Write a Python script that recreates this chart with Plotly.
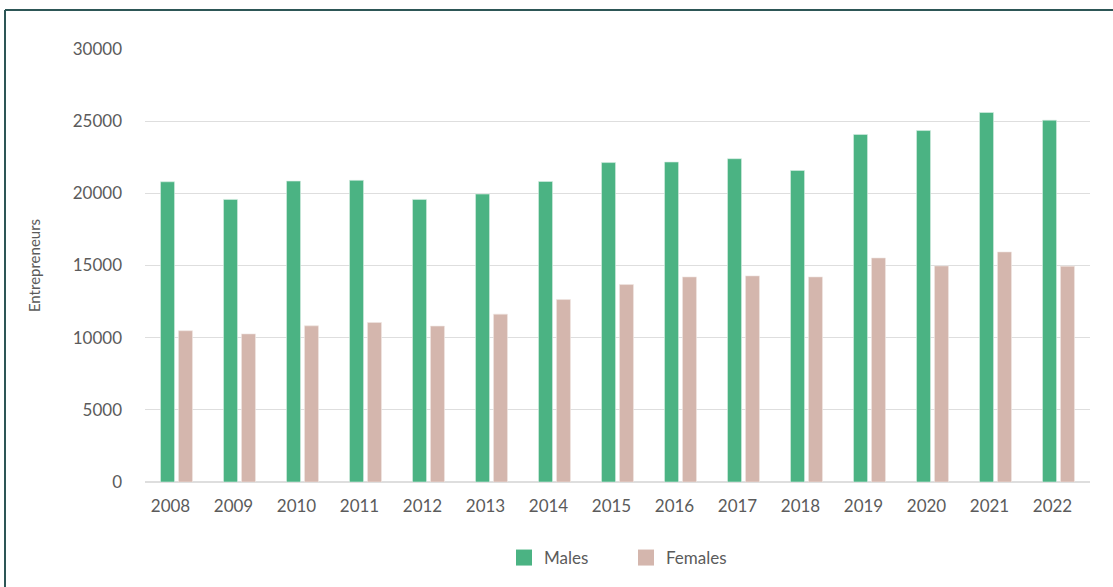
import plotly.graph_objects as go

years = ["2008", "2009", "2010", "2011", "2012", "2013", "2014", "2015",
         "2016", "2017", "2018", "2019", "2020", "2021", "2022"]
males = [20800, 19580, 20850, 20900, 19580, 19950, 20820, 22130,
         22170, 22400, 21580, 24080, 24350, 25600, 25070]
females = [10480, 10260, 10820, 11050, 10800, 11630, 12640, 13680,
           14210, 14280, 14210, 15520, 14970, 15940, 14950]
y_ticks = [0, 5000, 10000, 15000, 20000, 25000, 30000]

GREEN = "#4bb383"
PINK = "#d4b6ad"
TEXT = "#5b5b5b"
GRID = "#dedede"
FRAME = "#2d5656"

W, H = 1113, 587
L, R, T, B = 145, 23, 49, 104
pw, ph = W - L - R, H - T - B

def px_x(x):
    return (x - L) / pw

def px_y(y):
    return (H - B - y) / ph

fig = go.Figure()
fig.add_trace(go.Bar(x=years, y=males, name="Males", showlegend=False,
                     marker=dict(color=GREEN, line=dict(color="#d8efe4", width=0.6))))
fig.add_trace(go.Bar(x=years, y=females, name="Females", showlegend=False,
                     marker=dict(color=PINK, line=dict(color="#f0e6e2", width=0.6))))
# square swatches for the legend
for name, col in (("Males", GREEN), ("Females", PINK)):
    fig.add_trace(go.Scatter(x=[None], y=[None], mode="markers", name=name,
                             marker=dict(symbol="square", size=16, color=col)))

fig.update_layout(
    width=W, height=H,
    margin=dict(l=L, r=R, t=T, b=B),
    paper_bgcolor="white", plot_bgcolor="white",
    barmode="group", bargap=0.43, bargroupgap=0.22,
    font=dict(family="Lato, 'Open Sans', sans-serif", size=17, color=TEXT),
    showlegend=True,
    legend=dict(orientation="h", x=px_x(504), xanchor="left", y=px_y(558), yanchor="middle",
                font=dict(size=17, color=TEXT), itemwidth=30, traceorder="normal",
                entrywidth=77, entrywidthmode="pixels"),
    xaxis=dict(type="category", showgrid=False, showline=False, zeroline=False,
               ticks="", tickfont=dict(size=17, color=TEXT), ticklabelshift=-6,
               ticklabelstandoff=12),
    yaxis=dict(range=[0, 30000], tickvals=y_ticks, tickformat="d", showgrid=True,
               gridcolor=GRID, gridwidth=1,
               zeroline=True, zerolinecolor=GRID, zerolinewidth=1.5, showline=False,
               ticks="", tickfont=dict(size=17, color=TEXT), ticklabelstandoff=22,
               title=dict(text="Entrepreneurs", font=dict(size=15, color=TEXT), standoff=28)),
    shapes=[
        dict(type="line", xref="paper", yref="paper", x0=px_x(5), x1=px_x(W + 5),
             y0=px_y(10), y1=px_y(10), line=dict(color=FRAME, width=2)),
        dict(type="line", xref="paper", yref="paper", x0=px_x(5), x1=px_x(5),
             y0=px_y(10), y1=px_y(H + 5), line=dict(color=FRAME, width=2)),
    ],
)

fig.write_html("out.html")
